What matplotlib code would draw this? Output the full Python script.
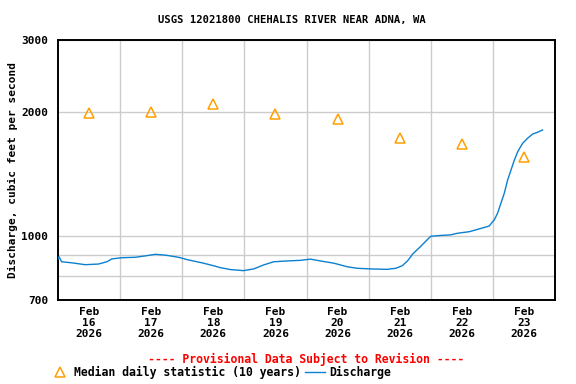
import matplotlib
matplotlib.use("Agg")
import matplotlib.pyplot as plt
import matplotlib.dates as mdates
from matplotlib.lines import Line2D
from matplotlib.ticker import FixedLocator, FixedFormatter, NullFormatter
import datetime as dt

# ---------------- data ----------------
title = "USGS 12021800 CHEHALIS RIVER NEAR ADNA, WA"
start = dt.datetime(2026, 2, 16)

median_days = [16, 17, 18, 19, 20, 21, 22, 23]
median_cfs = [1990, 2010, 2100, 1985, 1925, 1730, 1675, 1560]

discharge_hours = [0.0, 0.4, 1.4, 5.3, 10.5, 15.6, 18.9, 20.8, 24.7, 29.8, 33.7,
                   37.6, 41.4, 46.6, 50.4, 55.6, 60.1, 62.7, 66.6, 71.7, 75.6,
                   79.5, 83.3, 88.5, 93.7, 97.5, 101.4, 106.6, 111.8, 115.6, 120.8,
                   127.2, 130.5, 133.0, 135.0, 136.3, 136.9, 139.5, 142.1, 144.0, 147.2,
                   151.7, 154.3, 158.9, 162.7, 166.6, 168.0, 168.5, 169.8, 171.1, 172.4,
                   173.7, 175.0, 176.3, 177.6, 179.5, 181.4, 183.4, 185.3, 187.2]
discharge_cfs = [880, 892, 867, 862, 853, 856, 867, 881, 887, 889, 896,
                 904, 900, 889, 876, 862, 848, 839, 830, 825, 833,
                 852, 867, 871, 874, 880, 871, 860, 843, 836, 833,
                 831, 836, 848, 871, 892, 904, 937, 973, 1000, 1004,
                 1008, 1017, 1026, 1042, 1059, 1087, 1095, 1137, 1203, 1272,
                 1370, 1449, 1532, 1606, 1683, 1731, 1773, 1790, 1813]

y_ticks = [700, 1000, 2000, 3000]
y_minor_grid = [800, 900]
x_label_days = [16, 17, 18, 19, 20, 21, 22, 23]

# ---------------- style ----------------
FONT = "DejaVu Sans Mono"
plt.rcParams["font.family"] = FONT
plt.rcParams["font.weight"] = "bold"

line_color = "#0a80d0"
median_color = "#ffa000"
grid_color = "#cccccc"

fig = plt.figure(figsize=(5.76, 3.84), dpi=100)
ax = fig.add_axes([58 / 576, 1 - 300 / 384, 497 / 576, 260 / 384])

disc_t = [start + dt.timedelta(hours=h) for h in discharge_hours]
med_t = [dt.datetime(2026, 2, d, 12) for d in median_days]

ax.plot(disc_t, discharge_cfs, color=line_color, lw=1.0, zorder=3)
ax.plot(med_t, median_cfs, linestyle="none", marker="^", markersize=7,
        markerfacecolor="none", markeredgecolor=median_color, markeredgewidth=1.1, zorder=4)

ax.set_yscale("log")
ax.set_ylim(700, 3000)
ax.set_xlim(start, start + dt.timedelta(days=8))

ax.yaxis.set_major_locator(FixedLocator(y_ticks))
ax.yaxis.set_major_formatter(FixedFormatter([str(v) for v in y_ticks]))
ax.yaxis.set_minor_locator(FixedLocator(y_minor_grid))
ax.yaxis.set_minor_formatter(NullFormatter())

label_t = [mdates.date2num(dt.datetime(2026, 2, d, 12)) for d in x_label_days]
grid_t = [mdates.date2num(start + dt.timedelta(days=i)) for i in range(1, 8)]
ax.xaxis.set_major_locator(FixedLocator(label_t))
ax.xaxis.set_major_formatter(FixedFormatter([f"Feb\n{d}\n2026" for d in x_label_days]))
ax.xaxis.set_minor_locator(FixedLocator(grid_t))

ax.grid(False, which="major", axis="x")
ax.grid(True, which="minor", axis="x", color=grid_color, lw=1)
ax.grid(True, which="both", axis="y", color=grid_color, lw=1)
ax.set_axisbelow(True)

ax.tick_params(axis="both", which="both", length=0)
ax.tick_params(axis="y", pad=7, labelsize=8)
ax.tick_params(axis="x", pad=5, labelsize=8)
for lab in ax.get_xticklabels():
    lab.set_linespacing(1.15)
    lab.set_fontweight("bold")
for lab in ax.get_yticklabels():
    lab.set_fontweight("bold")

for s in ax.spines.values():
    s.set_linewidth(1.4)
    s.set_color("black")

fig.text(0.506, 1 - 20 / 384, title, ha="center", va="center",
         fontsize=7.6, fontweight="bold")
fig.text(13 / 576, 1 - 170 / 384, "Discharge, cubic feet per second",
         rotation=90, ha="center", va="center", fontsize=8, fontweight="bold")
fig.text(306 / 576, 1 - 359 / 384, "---- Provisional Data Subject to Revision ----",
         ha="center", va="center", color="red", fontsize=8.3, fontweight="bold")

handles = [Line2D([], [], linestyle="none", marker="^", markersize=7,
                  markerfacecolor="none", markeredgecolor=median_color, markeredgewidth=1.1),
           Line2D([], [], color=line_color, lw=1.0)]
fig.legend(handles, ["Median daily statistic (10 years)", "Discharge"],
           loc="center left", bbox_to_anchor=(50 / 576, 1 - 372 / 384), ncol=2,
           frameon=False, handlelength=1.7, handletextpad=0.35, columnspacing=0.4,
           borderpad=0, borderaxespad=0, prop={"family": FONT, "weight": "bold", "size": 8.3})

fig.savefig("out.png", dpi=100)
